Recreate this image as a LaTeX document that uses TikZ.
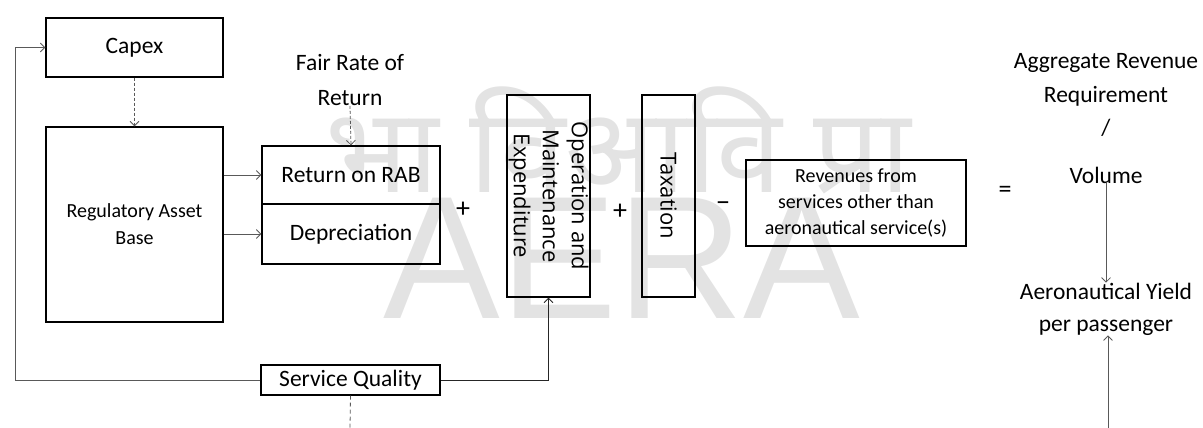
\documentclass[tikz,border=0pt]{standalone}
\usepackage{fontspec}
\setmainfont{Carlito}
\newfontfamily\omfont{Open Sans}
\newfontfamily\devfont[Script=Devanagari]{Noto Sans}
\newfontfamily\wmfont{Liberation Sans}
\usetikzlibrary{arrows.meta}

\tikzset{
  box/.style={draw=black, line width=1.3pt, inner sep=0pt, align=center},
  txt/.style={inner sep=0pt, align=center},
  link/.style={draw=black!65, line width=0.8pt},
  arr/.style={link, -{Straight Barb[length=4.5pt,width=9pt]}},
  darr/.style={arr, dashed, dash pattern=on 3pt off 2pt},
  big/.style={font=\fontsize{23.5}{34}\selectfont},
  mid/.style={font=\fontsize{20}{27}\selectfont},
  om/.style={font=\omfont\fontsize{22}{29}\selectfont},
  wmark/.style={inner sep=0pt, text=black!11},
}

\begin{document}
\begin{tikzpicture}[x=1pt,y=-1pt]
\useasboundingbox (0,0) rectangle (1203,428);

% faint watermark behind the diagram
\node[wmark, font=\devfont\fontsize{118}{118}\selectfont] (wmhi) at (618,140) {भा विआवि प्रा};
\node[wmark, font=\wmfont\fontsize{175}{175}\selectfont] (wmen) at (622,258) {AERA};

% boxes
\node[box, big, minimum width=177, minimum height=59] (capex) at (134.5,47.5) {Capex};
\node[box, mid, minimum width=177, minimum height=195] (rab) at (134.5,224.5) {Regulatory Asset\\Base};
\node[box, big, minimum width=178, minimum height=58] (ret) at (351,175) {Return on RAB};
\node[box, big, minimum width=178, minimum height=60] (dep) at (351,234) {Depreciation};
\node[box, om, rotate=-90, minimum width=202, minimum height=83] (om) at (548.5,196)
  {Operation and\\Maintenance\\Expenditure};
\node[box, om, rotate=-90, minimum width=202, minimum height=53] (tax) at (668.5,196) {Taxation};
\node[box, font=\fontsize{20}{26}\selectfont, minimum width=220, minimum height=86] (oth) at (856,203)
  {Revenues from\\services other than\\aeronautical service(s)};
\node[box, big, minimum width=179, minimum height=30] (sq) at (350.5,380) {Service Quality};

% free-standing labels
\node[txt, font=\fontsize{23.5}{35}\selectfont] (fair) at (350,80) {Fair Rate of\\Return};
\node[txt, big] (arrq) at (1106,80) {Aggregate Revenue\\Requirement};
\node[txt, big] (slash) at (1106,128) {/};
\node[txt, big] (vol) at (1106,175) {Volume};
\node[txt, font=\fontsize{23.5}{32}\selectfont] (yield) at (1106,309) {Aeronautical Yield\\per passenger};

% operators
\node[txt, font=\fontsize{28}{28}\selectfont] (p1) at (463,210) {+};
\node[txt, font=\fontsize{28}{28}\selectfont] (p2) at (620,212) {+};
\node[txt, font=\fontsize{28}{28}\selectfont] (m1) at (723,207) {\char"2212};
\node[txt, font=\fontsize{26}{26}\selectfont] (eq) at (1005,192) {=};

% connectors
\coordinate (fb) at (15,380);
\coordinate (sqend) at (350,428);
\coordinate (yend) at (1108,428);

\draw[darr] (capex.south) -- (rab.north);
\draw[darr] (fair.south) -- (ret.north);
\draw[arr] (rab.east |- ret.west) -- (ret.west);
\draw[arr] (rab.east |- dep.west) -- (dep.west);
\draw[arr, draw=black!85] (sq.east) -| (om.east);
\draw[arr] (sq.west) -- (fb) |- (capex.west);
\draw[link, dashed, dash pattern=on 4pt off 3pt] (sq.south) -- (sqend);
\draw[arr] (vol.south) -- (yield.north);
\draw[arr] (yend) -- ([xshift=2pt]yield.south);
\end{tikzpicture}
\end{document}
